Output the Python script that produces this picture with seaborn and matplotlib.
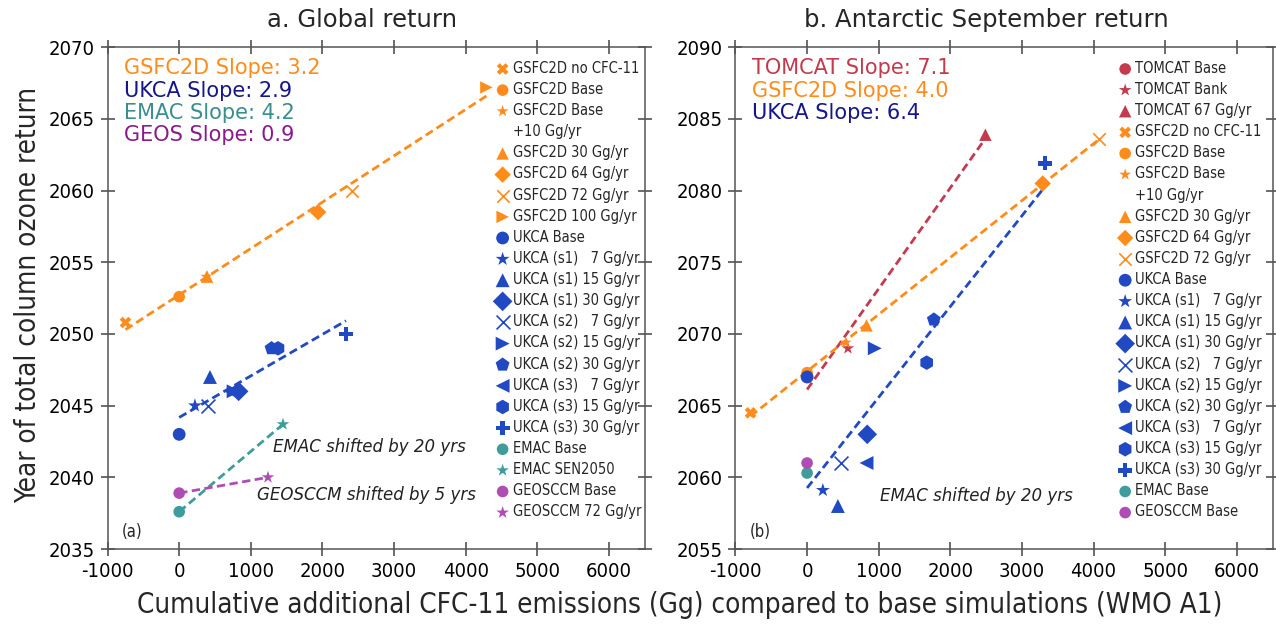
import numpy as np
import pandas as pd
import matplotlib
matplotlib.use("Agg")
import matplotlib.pyplot as plt
import seaborn as sns
from matplotlib import font_manager
from matplotlib.font_manager import FontProperties
from matplotlib.lines import Line2D

# ---------------- data ----------------
a_labels = ["GSFC2D no CFC-11", "GSFC2D Base", "GSFC2D Base\n+10 Gg/yr", "GSFC2D 30 Gg/yr",
            "GSFC2D 64 Gg/yr", "GSFC2D 72 Gg/yr", "GSFC2D 100 Gg/yr",
            "UKCA Base", "UKCA (s1)   7 Gg/yr", "UKCA (s1) 15 Gg/yr", "UKCA (s1) 30 Gg/yr",
            "UKCA (s2)   7 Gg/yr", "UKCA (s2) 15 Gg/yr", "UKCA (s2) 30 Gg/yr",
            "UKCA (s3)   7 Gg/yr", "UKCA (s3) 15 Gg/yr", "UKCA (s3) 30 Gg/yr",
            "EMAC Base", "EMAC SEN2050", "GEOSCCM Base", "GEOSCCM 72 Gg/yr"]
a_models = ["GSFC2D"] * 7 + ["UKCA"] * 10 + ["EMAC"] * 2 + ["GEOSCCM"] * 2
a_x = [-750, 0, 380, 390, 1940, 2410, 4290,
       0, 220, 430, 830, 400, 760, 1290, 720, 1380, 2330,
       0, 1450, 0, 1240]
a_y = [2050.8, 2052.6, 2054.0, 2054.0, 2058.5, 2060.0, 2067.2,
       2043.0, 2045.0, 2047.0, 2046.0, 2045.0, 2046.0, 2049.0, 2046.0, 2049.0, 2050.0,
       2037.6, 2043.7, 2038.9, 2040.0]

b_labels = ["TOMCAT Base", "TOMCAT Bank", "TOMCAT 67 Gg/yr",
            "GSFC2D no CFC-11", "GSFC2D Base", "GSFC2D Base\n+10 Gg/yr", "GSFC2D 30 Gg/yr",
            "GSFC2D 64 Gg/yr", "GSFC2D 72 Gg/yr",
            "UKCA Base", "UKCA (s1)   7 Gg/yr", "UKCA (s1) 15 Gg/yr", "UKCA (s1) 30 Gg/yr",
            "UKCA (s2)   7 Gg/yr", "UKCA (s2) 15 Gg/yr", "UKCA (s2) 30 Gg/yr",
            "UKCA (s3)   7 Gg/yr", "UKCA (s3) 15 Gg/yr", "UKCA (s3) 30 Gg/yr",
            "EMAC Base", "GEOSCCM Base"]
b_models = ["TOMCAT"] * 3 + ["GSFC2D"] * 6 + ["UKCA"] * 10 + ["EMAC", "GEOSCCM"]
b_x = [0, 570, 2490,
       -790, 0, 540, 830, 3290, 4070,
       0, 220, 430, 840, 470, 945, 1770, 830, 1670, 3320,
       0, 0]
b_y = [2067.0, 2069.0, 2083.9,
       2064.5, 2067.3, 2069.4, 2070.6, 2080.5, 2083.6,
       2067.0, 2059.1, 2058.0, 2063.0, 2061.0, 2069.0, 2071.0, 2061.0, 2068.0, 2081.9,
       2060.3, 2061.0]

a_slopes = [("GSFC2D Slope: 3.2", "GSFC2D"), ("UKCA Slope: 2.9", "UKCA"),
            ("EMAC Slope: 4.2", "EMAC"), ("GEOS Slope: 0.9", "GEOSCCM")]
b_slopes = [("TOMCAT Slope: 7.1", "TOMCAT"), ("GSFC2D Slope: 4.0", "GSFC2D"),
            ("UKCA Slope: 6.4", "UKCA")]
a_lines = ["GSFC2D", "UKCA", "EMAC", "GEOSCCM"]
b_lines = ["TOMCAT", "GSFC2D", "UKCA"]

x_ticks = [-1000, 0, 1000, 2000, 3000, 4000, 5000, 6000]

# ---------------- styles ----------------
colors = {"GSFC2D": "#FF8C1A", "UKCA": "#2149C2", "EMAC": "#3E9C9C",
          "GEOSCCM": "#B04DB5", "TOMCAT": "#C43B50"}
text_colors = {"GSFC2D": "#FF8C1A", "UKCA": "#16168A", "EMAC": "#3A8E8E",
               "GEOSCCM": "#8A1A8A", "TOMCAT": "#C23A4C"}

def marker_for(label):
    if "no CFC" in label: return "X", 70
    if "Base\n" in label: return "*", 80
    if "Base" in label: return "o", 85 if label.startswith("UKCA") else 70
    if "Bank" in label or "SEN2050" in label or "GEOSCCM 72" in label: return "*", 90
    if label.startswith("UKCA"):
        m = {"(s1)   7": ("*", 110), "(s1) 15": ("^", 100), "(s1) 30": ("D", 100),
             "(s2)   7": ("x", 100), "(s2) 15": (">", 100), "(s2) 30": ("p", 110),
             "(s3)   7": ("<", 100), "(s3) 15": ("h", 110), "(s3) 30": ("P", 100)}
        for k, v in m.items():
            if k in label: return v
    if " 30 " in label or "67" in label: return "^", 80
    if " 64 " in label: return "D", 70
    if " 72 " in label: return "x", 80
    if " 100 " in label: return ">", 80
    return "o", 70

# ---------------- fonts ----------------
sns.set_theme(style="ticks")
plt.rcParams["font.family"] = ["DejaVu Sans"]
plt.rcParams["axes.unicode_minus"] = False
cond_file = None
for f in font_manager.fontManager.ttflist:
    if f.fname.endswith("DejaVuSansCondensed.ttf"):
        cond_file = f.fname
if cond_file is None:
    for f in font_manager.fontManager.ttflist:
        if f.name == "Liberation Sans" and f.style == "normal" and f.weight in (400, "normal"):
            cond_file = f.fname
def cfont(size):
    if cond_file:
        return FontProperties(fname=cond_file, size=size)
    return FontProperties(family="DejaVu Sans", size=size)

# ---------------- figure ----------------
fig = plt.figure(figsize=(12.76, 6.32), dpi=100)
axes = [fig.add_axes([0.0843, 0.1313, 0.4209, 0.7939]),
        fig.add_axes([0.5764, 0.1313, 0.4209, 0.7939])]

panels = [
    dict(ax=axes[0], labels=a_labels, models=a_models, x=a_x, y=a_y, ylim=(2035, 2070),
         slopes=a_slopes, lines=a_lines, tag="(a)", leg_x=0.722),
    dict(ax=axes[1], labels=b_labels, models=b_models, x=b_x, y=b_y, ylim=(2055, 2090),
         slopes=b_slopes, lines=b_lines, tag="(b)", leg_x=0.712),
]

for p in panels:
    ax = p["ax"]
    df = pd.DataFrame({"label": p["labels"], "model": p["models"], "x": p["x"], "y": p["y"]})
    for mdl in p["lines"]:
        sub = df[df.model == mdl]
        sns.regplot(data=sub, x="x", y="y", ax=ax, scatter=False, ci=None, truncate=True,
                    line_kws=dict(color=colors[mdl], lw=2.0, ls=(0, (3.0, 1.6))))
    for _, r in df.iterrows():
        m, s = marker_for(r.label)
        kws = dict(linewidth=1.2) if m == "x" else dict(linewidth=0, edgecolor="none")
        sns.scatterplot(x=[r.x], y=[r.y], ax=ax, marker=m, s=s, color=colors[r.model],
                        label=r.label, zorder=3, **kws)
    ax.set_xlim(-1000, 6500)
    ax.set_ylim(*p["ylim"])
    ax.set_xticks(x_ticks)
    ax.set_yticks(np.arange(p["ylim"][0], p["ylim"][1] + 1, 5))
    ax.set_xlabel("")
    ax.set_ylabel("")
    ax.tick_params(direction="inout", length=10, width=1.1, color="#444444",
                   top=True, right=True, pad=4, labelcolor="black")
    for lab in ax.get_xticklabels() + ax.get_yticklabels():
        lab.set_fontproperties(cfont(14.5))
    for sp in ax.spines.values():
        sp.set_color("#555555")
        sp.set_linewidth(1.1)
    handles, labels = ax.get_legend_handles_labels()
    h2, l2 = [], []
    for h, l in zip(handles, labels):
        parts = l.split("\n")
        h2.append(h)
        l2.append(parts[0])
        for extra in parts[1:]:
            h2.append(Line2D([], [], linestyle="none"))
            l2.append(extra)
    ax.legend(h2, l2, loc="upper left", bbox_to_anchor=(p["leg_x"], 0.973), frameon=False,
              prop=cfont(10.5), handlelength=1.0, handletextpad=0.2,
              labelspacing=0.42, borderpad=0, borderaxespad=0, markerscale=1.0)
    for i, (txt, mdl) in enumerate(p["slopes"]):
        ax.text(0.031, 0.958 - i * 0.0445, txt, transform=ax.transAxes, color=text_colors[mdl],
                fontsize=15, va="center", ha="left")
    ax.text(0.026, 0.034, p["tag"], transform=ax.transAxes, fontproperties=cfont(12),
            va="center", ha="left")

axes[0].text(1307, 2042.1, "EMAC shifted by 20 yrs", fontsize=12, style="italic",
             va="center", ha="left", color="#222222")
axes[0].text(1084, 2038.8, "GEOSCCM shifted by 5 yrs", fontsize=12, style="italic",
             va="center", ha="left", color="#222222")
axes[1].text(1015, 2058.7, "EMAC shifted by 20 yrs", fontsize=12, style="italic",
             va="center", ha="left", color="#222222")

fig.text(362 / 1276, 1 - 20 / 632, "a. Global return", fontsize=17.5, ha="center", va="center")
fig.text(986 / 1276, 1 - 20 / 632, "b. Antarctic September return", fontsize=17.5,
         ha="center", va="center")
fig.text(28 / 1276, 0.533, "Year of total column ozone return", fontproperties=cfont(20),
         rotation=90, ha="center", va="center")
fig.text(680 / 1276, 1 - 605 / 632,
         "Cumulative additional CFC-11 emissions (Gg) compared to base simulations (WMO A1)",
         fontproperties=cfont(20), ha="center", va="center")

fig.savefig("out.png", dpi=100)
